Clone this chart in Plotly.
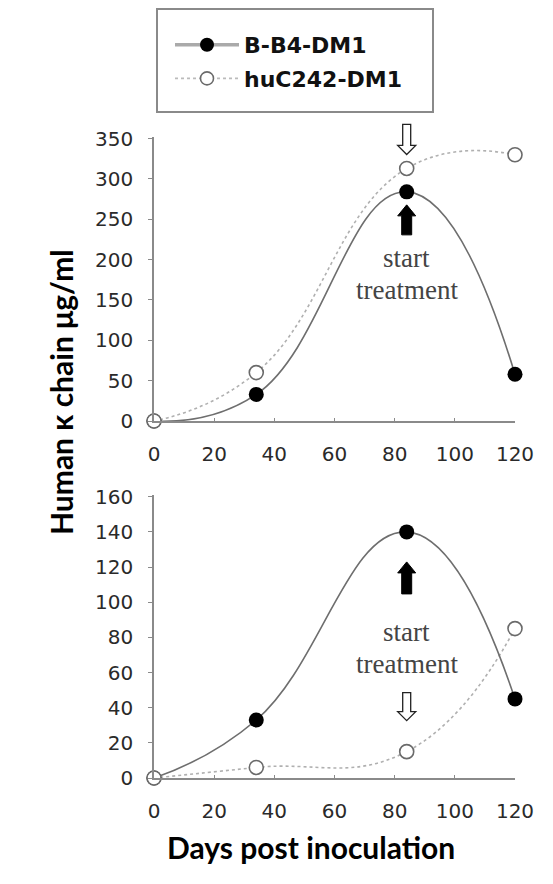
import plotly.graph_objects as go

W, H = 553, 884

days = [0, 34, 84, 120]
bb4_top = [0, 33, 284, 58]
huc_top = [0, 60, 313, 330]
bb4_bot = [0, 33, 140, 45]
huc_bot = [0, 6, 15, 85]
series_names = ["B-B4-DM1", "huC242-DM1"]
x_ticks = [0, 20, 40, 60, 80, 100, 120]
y_ticks_top = [0, 50, 100, 150, 200, 250, 300, 350]
y_ticks_bot = [0, 20, 40, 60, 80, 100, 120, 140, 160]
treat_day = 84
note_lines = ["start", "treatment"]

X_MAX = 120
YTOP_MAX = 352
YBOT_MAX = 161


def px(x):
    return x / W


def py(y):
    return 1 - y / H


fig = go.Figure()

solid_col = "#6e6e6e"
dot_col = "#b0b0b0"
axis_col = "#8a8a8a"
SMOOTH = 1.3

for (vb, vh, xa, ya) in [(bb4_top, huc_top, "x", "y"), (bb4_bot, huc_bot, "x2", "y2")]:
    fig.add_trace(go.Scatter(x=days, y=vh, mode="lines", xaxis=xa, yaxis=ya,
                             line=dict(color=dot_col, width=1.6, dash="dot", shape="spline", smoothing=SMOOTH),
                             showlegend=False, hoverinfo="skip"))
    fig.add_trace(go.Scatter(x=days, y=vb, mode="lines", xaxis=xa, yaxis=ya,
                             line=dict(color=solid_col, width=1.6, shape="spline", smoothing=SMOOTH),
                             showlegend=False, hoverinfo="skip"))
    fig.add_trace(go.Scatter(x=days, y=vb, mode="markers", xaxis=xa, yaxis=ya,
                             marker=dict(size=15, color="black"),
                             cliponaxis=False, showlegend=False, name=series_names[0]))
    fig.add_trace(go.Scatter(x=days, y=vh, mode="markers", xaxis=xa, yaxis=ya,
                             marker=dict(size=14, color="white",
                                         line=dict(color="#6a6a6a", width=1.6)),
                             cliponaxis=False, showlegend=False, name=series_names[1]))

# legend-only traces
fig.add_trace(go.Scatter(x=[None], y=[None], mode="lines+markers", name=series_names[0],
                         line=dict(color="#aaaaaa", width=3.5),
                         marker=dict(size=14, color="black"), legendgroup="a"))
fig.add_trace(go.Scatter(x=[None], y=[None], mode="lines+markers", name=series_names[1],
                         line=dict(color="#bbbbbb", width=1.6, dash="dot"),
                         marker=dict(size=13, color="white", line=dict(color="#6a6a6a", width=1.6)),
                         legendgroup="b"))

tick_font = dict(family="DejaVu Sans, sans-serif", size=20, color="#2a2a2a")
xdom = [px(154), px(515)]

common_x = dict(range=[0, X_MAX], tickvals=x_ticks, showline=True, linecolor=axis_col, linewidth=1.5,
                ticks="inside", ticklen=3, tickcolor=axis_col, tickfont=tick_font,
                showgrid=False, zeroline=False, domain=xdom, fixedrange=True,
                ticklabelstandoff=14, automargin=False)
common_y = dict(showline=True, linecolor=axis_col, linewidth=1.5, ticks="outside", ticklen=4,
                tickcolor=axis_col, tickfont=tick_font, showgrid=False, zeroline=False,
                fixedrange=True, ticklabelstandoff=11, automargin=False)

fig.update_layout(
    width=W, height=H,
    margin=dict(l=0, r=0, t=0, b=0, pad=0),
    paper_bgcolor="white", plot_bgcolor="white",
    xaxis=dict(**common_x, anchor="y"),
    yaxis=dict(**common_y, range=[0, YTOP_MAX], tickvals=y_ticks_top, domain=[py(421), py(137)], anchor="x"),
    xaxis2=dict(**common_x, anchor="y2"),
    yaxis2=dict(**common_y, range=[0, YBOT_MAX], tickvals=y_ticks_bot, domain=[py(778), py(495)], anchor="x2"),
    showlegend=True,
    legend=dict(x=px(170), y=py(24), xanchor="left", yanchor="top",
                bgcolor="rgba(0,0,0,0)", borderwidth=0, itemwidth=64,
                tracegroupgap=2,
                font=dict(family="DejaVu Sans, sans-serif", size=22, color="#111", weight="bold")),
)

# legend box
fig.add_shape(type="rect", xref="paper", yref="paper", x0=px(157), x1=px(433), y0=py(112), y1=py(9),
              line=dict(color="#8a8a8a", width=2), fillcolor="rgba(0,0,0,0)", layer="below")


# arrows: filled up arrow below black point, open down arrow above open point
def up_arrow(y_top, y_bot):
    h = 11
    return (f"M 0,{y_top} L 9,{y_top-h} L 5,{y_top-h} L 5,{y_bot} L -5,{y_bot} "
            f"L -5,{y_top-h} L -9,{y_top-h} Z")


def down_arrow(y_tip, y_top):
    h = 9
    return (f"M 0,{y_tip} L 9,{y_tip+h} L 4,{y_tip+h} L 4,{y_top} L -4,{y_top} "
            f"L -4,{y_tip+h} L -9,{y_tip+h} Z")


for xa, ya, ymax, vb, vh, (ut, ub), (dt, dtop) in [
    ("x", "y", YTOP_MAX, bb4_top[2], huc_top[2], (-13, -43), (14, 44)),
    ("x2", "y2", YBOT_MAX, bb4_bot[2], huc_bot[2], (-30, -62), (31, 59)),
]:
    fig.add_shape(type="path", xref=xa + " domain", yref=ya + " domain", xsizemode="pixel", ysizemode="pixel",
                  xanchor=treat_day / X_MAX, yanchor=vb / ymax, path=up_arrow(ut, ub),
                  fillcolor="black", line=dict(color="black", width=1))
    fig.add_shape(type="path", xref=xa + " domain", yref=ya + " domain", xsizemode="pixel", ysizemode="pixel",
                  xanchor=treat_day / X_MAX, yanchor=vh / ymax, path=down_arrow(dt, dtop),
                  fillcolor="white", line=dict(color="#222", width=1.3))

serif = dict(family="Liberation Serif, Times New Roman, serif", size=27, color="#444")
for xa, ya, ys in [("x", "y", (202, 162)), ("x2", "y2", (83, 65))]:
    for txt, yv in zip(note_lines, ys):
        fig.add_annotation(x=treat_day, y=yv, xref=xa, yref=ya, text=txt,
                           showarrow=False, font=serif)

title_font = dict(family="Lato, Open Sans, sans-serif", size=30, color="black", weight="bold")
fig.add_annotation(x=px(41), y=py(392), xref="paper", yref="paper", text="Human κ chain μg/ml",
                   textangle=-90, showarrow=False, font=title_font)
fig.add_annotation(x=px(311), y=py(866), xref="paper", yref="paper", text="Days post inoculation",
                   showarrow=False, font=title_font, borderpad=0)

fig.write_html("out.html", config={"displayModeBar": False},
               post_script="document.body.style.margin='0';")
